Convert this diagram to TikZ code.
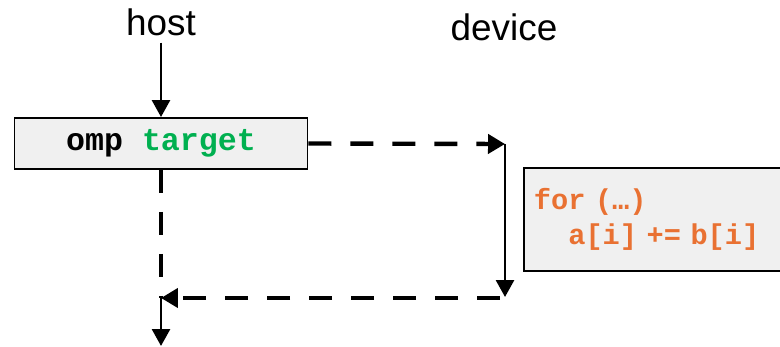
\documentclass[tikz,border=0pt]{standalone}
\usepackage{fontspec}
\setmainfont{Liberation Sans}
\newfontfamily\codefont{Liberation Mono}
\usetikzlibrary{arrows.meta}
\definecolor{BLACK}{HTML}{000000}
\definecolor{GREEN}{HTML}{00B050}
\definecolor{ORANGE}{HTML}{E97132}
\definecolor{BOXGRAY}{HTML}{F0F0F0}

\tikzset{
    side/.style={font=\fontsize{21}{25}\selectfont, anchor=base},
    codebox/.style={draw=BLACK, line width=1.1pt, fill=BOXGRAY, inner sep=0pt},
    flow/.style={BLACK, line width=1.6pt, -{Triangle[length=0.34cm, width=0.36cm]}},
    dashline/.style={BLACK, line width=2.5pt, dash pattern=on 0.46cm off 0.38cm},
    offload/.style={dashline, -{Triangle[length=0.34cm, width=0.38cm]}},
}

\begin{document}
\begin{tikzpicture}[x=0.02cm, y=-0.02cm]
    \clip (0,0) rectangle (780,347);
    \node[side] (host) at (161,36) {host};
    \node[side] (device) at (504,41) {device};
    \node[codebox, minimum width=5.86cm, minimum height=1.02cm,
          font=\codefont\bfseries\fontsize{18}{22}\selectfont] (tgt) at (161,143.5)
          {omp \textcolor{GREEN}{target}};
    \node[codebox, anchor=west, minimum height=2.06cm, inner xsep=0.2cm, text width=5.6cm,
          align=left, text=ORANGE, font=\codefont\bfseries\fontsize{16.3}{19.5}\selectfont] (kernel) at (523,219.5)
          {for (…)\\ \hphantom{fo}a[i] += b[i]};
    \coordinate (devin) at (505,144);
    \coordinate (devout) at (505,297);
    \coordinate (join) at (161,298);
    \coordinate (exit) at (161,346);
    \draw[flow] (host) -- (tgt);
    \draw[offload] (tgt.east) -- (devin);
    \draw[flow] (devin) -- (devout);
    \draw[offload] ([xshift=-0.1cm]devout |- join) -- (join);
    \draw[dashline] (tgt.south) -- (join);
    \draw[flow] (join) -- (exit);
\end{tikzpicture}
\end{document}
